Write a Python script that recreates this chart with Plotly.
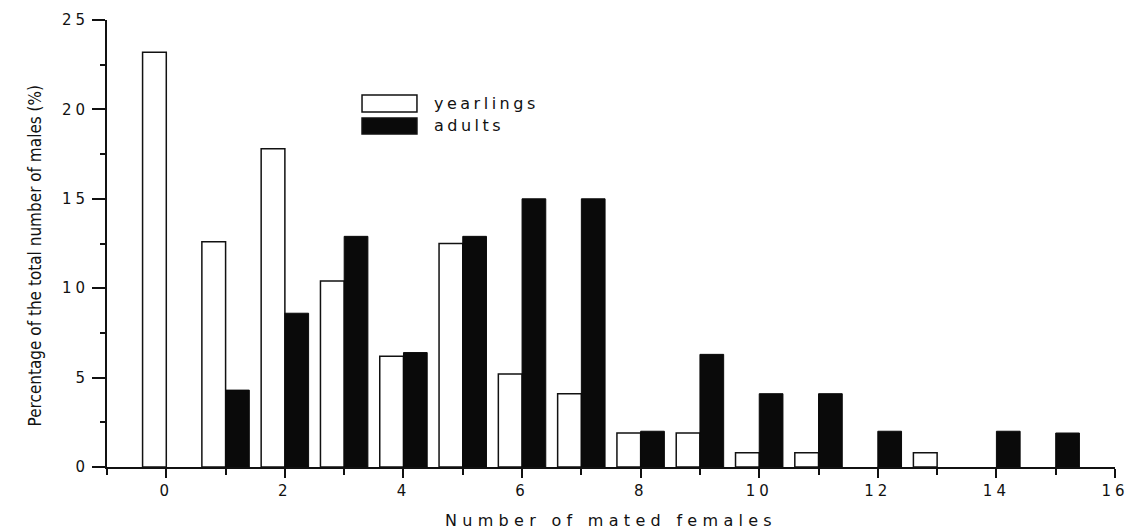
import plotly.graph_objects as go

# Number of mated females per male
mates = list(range(0, 16))

# Percentage of the total number of males (%)
yearlings = [23.2, 12.6, 17.8, 10.4, 6.2, 12.5, 5.2, 4.1, 1.9, 1.9, 0.8, 0.8, None, 0.8, None, None]
adults = [None, 4.3, 8.6, 12.9, 6.4, 12.9, 15.0, 15.0, 2.0, 6.3, 4.1, 4.1, 2.0, None, 2.0, 1.9]

x_ticks = [0, 2, 4, 6, 8, 10, 12, 14, 16]
y_ticks = [0, 5, 10, 15, 20, 25]

series_names = ["yearlings", "adults"]
x_title = "Number of mated females"
y_title = "Percentage of the total number of males (%)"

WIDE = "letter-spacing:4px"
TICK_FONT = dict(family="DejaVu Sans, sans-serif", size=15, color="#111")

fig = go.Figure()
fig.add_trace(go.Bar(
    x=mates, y=yearlings, name=series_names[0],
    width=0.4, offset=-0.4,
    marker=dict(color="white", line=dict(color="#111", width=1.5)),
))
fig.add_trace(go.Bar(
    x=mates, y=adults, name=series_names[1],
    width=0.4, offset=0.0,
    marker=dict(color="#0a0a0a", line=dict(color="#0a0a0a", width=1)),
))

fig.update_layout(
    width=1132, height=531,
    margin=dict(l=107, r=17, t=20, b=64),
    plot_bgcolor="white", paper_bgcolor="white",
    showlegend=False,
    barmode="overlay",
    font=TICK_FONT,
)

fig.update_xaxes(
    range=[-1, 16],
    automargin=False,
    tickvals=x_ticks,
    ticktext=[f'<span style="{WIDE}">{v}</span>' for v in x_ticks],
    ticks="outside", ticklen=9, tickwidth=1.5, tickcolor="#111",
    minor=dict(dtick=1, tick0=0, ticks="outside", ticklen=6, tickwidth=1.5, tickcolor="#111"),
    showline=True, linecolor="#111", linewidth=2,
    showgrid=False, zeroline=False,
    tickfont=TICK_FONT,
)

fig.update_yaxes(
    range=[0, 25],
    automargin=False,
    tickvals=y_ticks,
    ticktext=[f'<span style="{WIDE}">{v}</span>' for v in y_ticks],
    ticks="outside", ticklen=13, tickwidth=1.5, tickcolor="#111",
    minor=dict(dtick=2.5, tick0=0, ticks="outside", ticklen=5, tickwidth=1.5, tickcolor="#111"),
    showline=True, linecolor="#111", linewidth=2,
    showgrid=False, zeroline=False,
    tickfont=TICK_FONT,
)

# Horizontal axis title, widely spaced
fig.add_annotation(
    text=f'<span style="letter-spacing:5.3px">{x_title}</span>',
    xref="paper", yref="paper", x=0.5, y=-0.119,
    xanchor="center", yanchor="middle", showarrow=False,
    font=dict(family="DejaVu Sans, sans-serif", size=16, color="#111"),
)

# Vertical axis title in a condensed face
fig.add_annotation(
    text=y_title,
    xref="paper", yref="paper", x=-0.083, y=0.474,
    textangle=-90, showarrow=False,
    font=dict(family="Liberation Sans Narrow, DejaVu Sans Condensed, sans-serif", size=17, color="#111"),
)

# Legend: swatches with labels
legend_rows = [
    dict(y0=0.794, y1=0.832, fill="white", ty=0.814),
    dict(y0=0.745, y1=0.781, fill="#0a0a0a", ty=0.765),
]
for name, row in zip(series_names, legend_rows):
    fig.add_shape(
        type="rect", xref="paper", yref="paper",
        x0=0.253, x1=0.3075, y0=row["y0"], y1=row["y1"],
        fillcolor=row["fill"], line=dict(color="#111", width=1.5),
    )
    fig.add_annotation(
        text=f'<span style="letter-spacing:3.5px">{name}</span>',
        xref="paper", yref="paper", x=0.322, y=row["ty"],
        xanchor="left", yanchor="middle", showarrow=False,
        font=dict(family="DejaVu Sans, sans-serif", size=16, color="#111"),
    )

fig.write_html("out.html")
